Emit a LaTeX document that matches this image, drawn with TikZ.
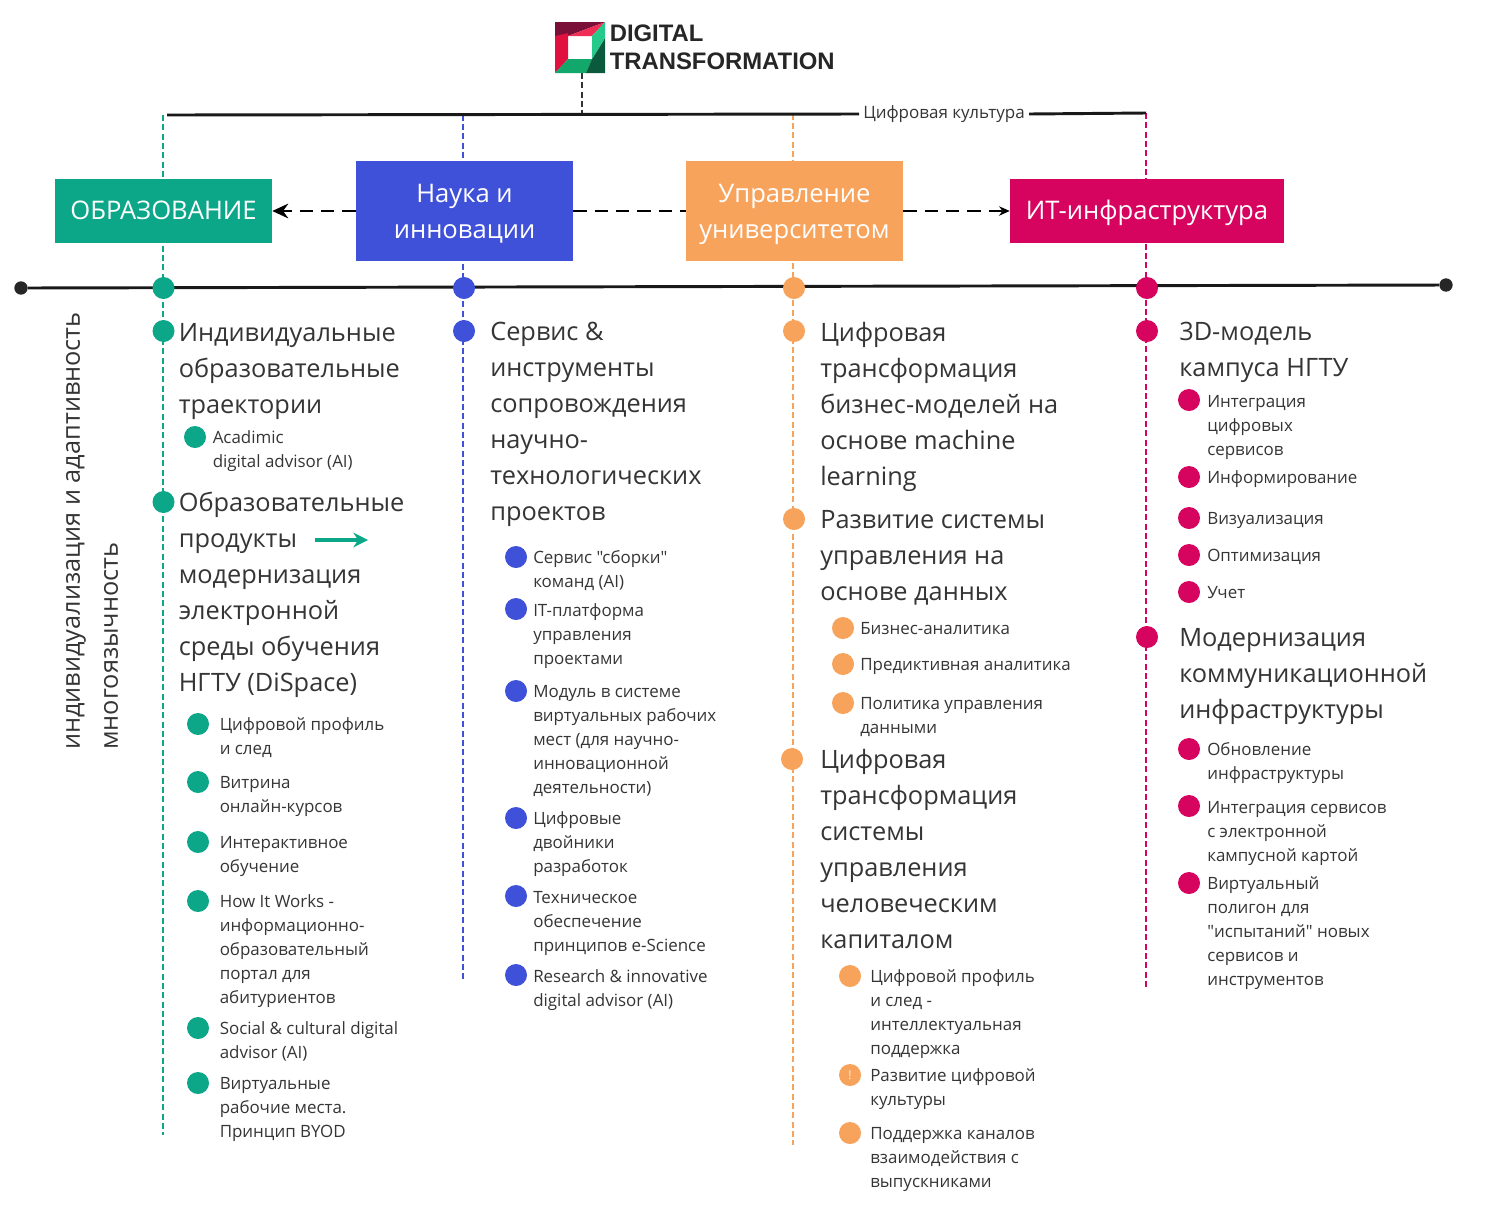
\documentclass[tikz,border=0pt]{standalone}
\usepackage{fontspec}
\setmainfont{Open Sans}[Ligatures=TeXOff]
\newfontfamily\logofont{Liberation Sans}
\usetikzlibrary{arrows.meta,backgrounds}
\definecolor{cteal}{HTML}{0CA789}
\definecolor{cblue}{HTML}{3F51D9}
\definecolor{corange}{HTML}{F7A35C}
\definecolor{cmag}{HTML}{D6045F}
\definecolor{ctxt}{HTML}{353535}
\definecolor{lgmar}{HTML}{7A1038}
\definecolor{lgred}{HTML}{E0103F}
\definecolor{lgpink}{HTML}{F02D55}
\definecolor{lggrn}{HTML}{12A86B}
\definecolor{lgdark}{HTML}{0B5A3E}
\definecolor{lglight}{HTML}{25C98A}
\tikzset{
  dotn/.style={circle,draw=none,inner sep=0pt,minimum size=16.5pt},
  enddot/.style={circle,fill=black!85,inner sep=0pt,minimum size=10pt},
  bigtxt/.style={anchor=north west,inner sep=0pt,align=left,yshift=7.1pt,text=ctxt,
    font=\fontsize{19}{27}\selectfont,execute at begin node={\rule{0pt}{15pt}},execute at end node={\strut}},
  smalltxt/.style={anchor=north west,inner sep=0pt,align=left,yshift=4.9pt,text=ctxt,
    font=\fontsize{12.7}{18}\selectfont,execute at begin node={\rule{0pt}{11.25pt}},execute at end node={\strut}},
  headbox/.style={inner sep=0pt,align=center,text=white,minimum width=162.75pt,
    font=\fontsize{19.2}{27}\selectfont},
  headone/.style={headbox,minimum height=48pt,execute at begin node={\rule{0pt}{18pt}},execute at end node={\rule[-6pt]{0pt}{6pt}}},
  headtwo/.style={headbox,minimum height=75pt},
  headtext/.style={inner sep=0pt,align=center,text=white,font=\fontsize{19.2}{27}\selectfont},
  coldash/.style={line width=0.8pt,dash pattern=on 4.5pt off 2.5pt},
  flowdash/.style={line width=1.8pt,dash pattern=on 10pt off 6pt},
  thickline/.style={line width=2.2pt,black!90},
  sidetxt/.style={rotate=90,anchor=west,inner sep=0pt,text=ctxt,font=\fontsize{19}{22}\selectfont},
}
% [text nudge]{name}{colour}{dot x}{text x}{y}{text}
\newcommand\bigent[7][0]{\node[dotn,fill=#3] (#2d) at (#4,#6){}; \node[bigtxt] (#2t) at (#5,#6+#1){#7};}
\newcommand\smallent[7][0]{\node[dotn,fill=#3] (#2d) at (#4,#6){}; \node[smalltxt] (#2t) at (#5,#6+#1){#7};}
\begin{document}
\begin{tikzpicture}[x=0.75pt,y=-0.75pt]
\useasboundingbox (0,0) rectangle (1494,1204);
% logo
\fill[lgmar] (555,22)--(605,22)--(568,36)--(555,49)--cycle;
\fill[lgpink] (605,22)--(592,36)--(568,36)--cycle;
\fill[lgred] (555,36)--(568,30)--(568,59)--(555,73)--cycle;
\fill[lgmar] (555,22)--(605,22)--(568,33)--(555,36)--cycle;
\fill[lggrn] (568,59)--(592,59)--(586,73)--(555,73)--cycle;
\fill[lgdark] (592,59)--(605,38)--(605,73)--(586,73)--cycle;
\fill[lglight] (605,22)--(605,38)--(592,59)--(592,36)--cycle;
\node[inner sep=0pt,minimum width=37.5pt,minimum height=38.25pt] (logo) at (580,47.5){};
\node[inner sep=0pt,anchor=west,text=black!85,font=\logofont\bfseries\fontsize{17.9}{20}\selectfont] (lg1) at (609.5,33){DIGITAL};
\node[inner sep=0pt,anchor=west,text=black!85,font=\logofont\bfseries\fontsize{17.9}{20}\selectfont] (lg2) at (609.5,61){TRANSFORMATION};
% bracket
\coordinate (brL) at (167,115);
\coordinate (brR) at (1146,113);
\coordinate (brLogo) at (582,113.8);
\node[inner sep=3pt,text=ctxt,font=\fontsize{12.75}{14}\selectfont] (culture) at (944,114){Цифровая культура};
\draw[thickline] (brL) -- (culture.west);
\draw[thickline] (culture.east) -- (brR);
% header boxes
\node[headone,fill=cteal] (h1) at (163.5,211){ОБРАЗОВАНИЕ};
\node[headtwo,fill=cblue] (h2) at (464.5,211){};
\node[headtext] (h2t) at (464.5,214){Наука и\\инновации};
\node[headtwo,fill=corange] (h3) at (794.5,211){};
\node[headtext] (h3t) at (794.5,214){Управление\\университетом};
\node[headone,fill=cmag,minimum width=205.5pt] (h4) at (1147,211){ИТ-инфраструктура};
\draw[flowdash,-{Stealth[length=12pt,width=11pt]}] (h2.west) -- (h1.east);
\draw[flowdash] (h2.east) -- (h3.west);
\draw[flowdash,-{Stealth[length=8pt,width=7pt]}] (h3.east) -- (h4.west);
% axis
\node[enddot] (a1) at (21,288){};
\node[enddot] (a2) at (1446,285){};
\draw[thickline] (a1) -- (a2);
\node[dotn,fill=cteal] (c1) at (163.5,288){};
\node[dotn,fill=cblue] (c2) at (464,288){};
\node[dotn,fill=corange] (c3) at (794,288){};
\node[dotn,fill=cmag] (c4) at (1147,288){};
% column 1
\bigent[1.5]{a}{cteal}{163.5}{178.5}{331}{Индивидуальные\\образовательные\\траектории}
\smallent{ab}{cteal}{195}{212.5}{437}{Acadimic\\digital advisor (AI)}
\bigent[-0.5]{b}{cteal}{163.5}{178.5}{502}{Образовательные\\продукты\\модернизация\\электронной\\среды обучения\\НГТУ (DiSpace)}
\coordinate (ar1) at (315,540);
\coordinate (ar2) at (368,540);
\draw[cteal,line width=2.4pt,-{Stealth[length=11pt,width=11pt]}] (ar1) -- (ar2);
\smallent{b1}{cteal}{198}{219.5}{724}{Цифровой профиль\\и след}
\smallent[1]{b2}{cteal}{198}{219.5}{782}{Витрина\\онлайн-курсов}
\smallent[1]{b3}{cteal}{198}{219.5}{842}{Интерактивное\\обучение}
\smallent{b4}{cteal}{198}{219.5}{901}{How It Works -\\информационно-\\образовательный\\портал для\\абитуриентов}
\smallent{b5}{cteal}{198}{219.5}{1028}{Social \& cultural digital\\advisor (AI)}
\smallent[1]{b6}{cteal}{198}{219.5}{1083}{Виртуальные\\рабочие места.\\Принцип BYOD}
% column 2
\bigent{c}{cblue}{464}{490}{331}{Сервис \&\\инструменты\\сопровождения\\научно-\\технологических\\проектов}
\smallent{c1x}{cblue}{516}{533}{557}{Сервис "сборки"\\команд (AI)}
\smallent[1]{c2x}{cblue}{516}{533}{609}{IT-платформа\\управления\\проектами}
\smallent[1]{c3x}{cblue}{516}{533}{691}{Модуль в системе\\виртуальных рабочих\\мест (для научно-\\инновационной\\деятельности)}
\smallent{c4x}{cblue}{516}{533}{818}{Цифровые\\двойники\\разработок}
\smallent[2]{c5x}{cblue}{516}{533}{896}{Техническое\\обеспечение\\принципов e-Science}
\smallent[1]{c6x}{cblue}{516}{533}{975}{Research \& innovative\\digital advisor (AI)}
% column 3
\bigent{d}{corange}{794}{820}{331}{Цифровая\\трансформация\\бизнес-моделей на\\основе machine\\learning}
\bigent[0.5]{e}{corange}{794}{820}{519}{Развитие системы\\управления на\\основе данных}
\smallent[-4]{e1}{corange}{843}{860}{628}{Бизнес-аналитика}
\smallent[-4]{e2}{corange}{843}{860}{664}{Предиктивная аналитика}
\smallent[1]{e3}{corange}{843}{860}{703}{Политика управления\\данными}
\bigent[-0.5]{f}{corange}{792}{820}{759}{Цифровая\\трансформация\\системы\\управления\\человеческим\\капиталом}
\smallent{f1}{corange}{850}{870}{976}{Цифровой профиль\\и след -\\интеллектуальная\\поддержка}
\node[dotn,fill=corange,text=white!85!corange,font=\fontsize{9}{10}\selectfont] (f2d) at (850,1075){!};
\node[smalltxt] (f2t) at (870,1075){Развитие цифровой\\культуры};
\smallent[1]{f3}{corange}{850}{870}{1133}{Поддержка каналов\\взаимодействия с\\выпускниками}
% column 4
\bigent{g}{cmag}{1147}{1179}{331}{3D-модель\\кампуса НГТУ}
\smallent[2]{g1}{cmag}{1189}{1207}{400}{Интеграция\\цифровых\\сервисов}
\smallent[-4]{g2}{cmag}{1189}{1207}{477}{Информирование}
\smallent[-4]{g3}{cmag}{1189}{1207}{518}{Визуализация}
\smallent[-4]{g4}{cmag}{1189}{1207}{555}{Оптимизация}
\smallent[-4]{g5}{cmag}{1189}{1207}{592}{Учет}
\bigent[0.5]{k}{cmag}{1147}{1179}{637}{Модернизация\\коммуникационной\\инфраструктуры}
\smallent{k1}{cmag}{1189}{1207}{749}{Обновление\\инфраструктуры}
\smallent[2]{k2}{cmag}{1189}{1207}{806}{Интеграция сервисов\\с электронной\\кампусной картой}
\smallent{k3}{cmag}{1189}{1207}{883}{Виртуальный\\полигон для\\"испытаний" новых\\сервисов и\\инструментов}
% side text
\node[sidetxt] (s1) at (76,750){индивидуализация и адаптивность};
\node[sidetxt] (s2) at (111,750){многоязычность};
% vertical dashed connectors
\coordinate (colA) at (163,115);
\coordinate (colB) at (463,114.5);
\coordinate (colC) at (793,113.5);
\coordinate (colD) at (1146,113);
\coordinate (endA) at (163,1135);
\coordinate (endB) at (463,980);
\coordinate (endC) at (793,1145);
\coordinate (endD) at (1146,988);
\coordinate (logoB) at (582,73);
\begin{scope}[on background layer]
\fill[white] (0,0) rectangle (1494,1204);
\draw[coldash,cteal] (colA) -- (endA);
\draw[coldash,cblue] (colB) -- (endB);
\draw[coldash,corange] (colC) -- (endC);
\draw[coldash,cmag] (colD) -- (endD);
\draw[coldash,black!80] (logoB) -- (brLogo);
\end{scope}
\end{tikzpicture}
\end{document}
